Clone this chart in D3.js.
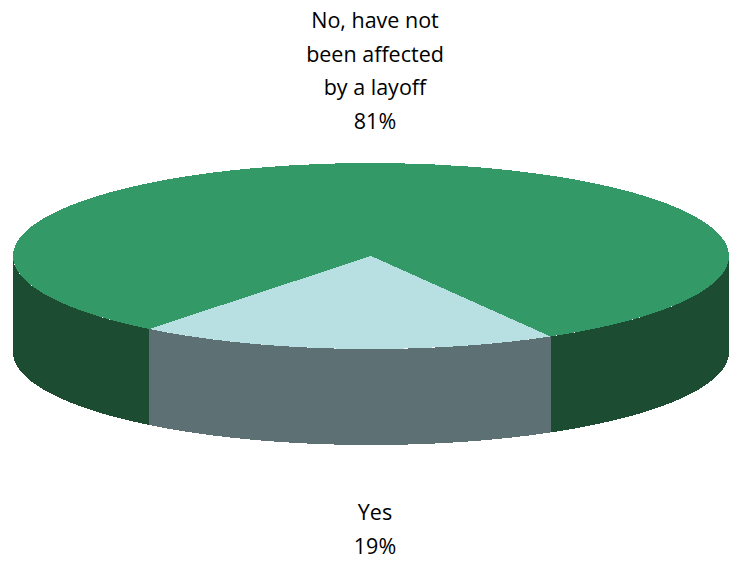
<!DOCTYPE html>
<html>
<head>
<meta charset="utf-8">
<script src="https://cdn.jsdelivr.net/npm/d3@7"></script>
<style>
  html, body { margin: 0; padding: 0; background: #fff; }
  svg { display: block; }
  text { font-family: "Open Sans", Lato, sans-serif; fill: #000; }
</style>
</head>
<body>
<svg id="chart" width="740" height="562"></svg>
<script>
// Survey answers: has the respondent been affected by a layoff?
const categories = ["Yes", "No, have not been affected by a layoff"];
const values = [19, 81];
const labelLines = [["Yes", "19%"], ["No, have not", "been affected", "by a layoff", "81%"]];
const topColors = ["#b8e0e3", "#339966"];
const sideColors = ["#5d7073", "#1c4d33"];

const W = 740, H = 562;
const cx = 371, cy = 256;     // centre of the top face
const rx = 358, ry = 93;      // ellipse radii of the disc
const depth = 96;             // thickness of the disc

const svg = d3.select("#chart");

// Slice angles (0 at 12 o'clock, clockwise)
const startDeg = 149.9;
const pie = d3.pie().sort(null)
  .startAngle(startDeg * Math.PI / 180)
  .endAngle((startDeg + 360) * Math.PI / 180);
const arcs = pie(values);

// Map a pie angle onto the flattened ellipse
const px = a => cx + rx * Math.sin(a);
const py = a => cy - ry * Math.cos(a);

// Front-facing portion of the rim lies between 90° and 270° (mod 360°)
function frontRanges(a0, a1) {
  const out = [];
  for (let k = -1; k <= 2; k++) {
    const lo = Math.PI / 2 + k * 2 * Math.PI, hi = 3 * Math.PI / 2 + k * 2 * Math.PI;
    const s = Math.max(a0, lo), e = Math.min(a1, hi);
    if (e > s) out.push([s, e]);
  }
  return out;
}

const line = d3.line();
const sides = [];
arcs.forEach((d, i) => {
  frontRanges(d.startAngle, d.endAngle).forEach(([s, e]) => {
    const n = Math.max(2, Math.ceil((e - s) / 0.01));
    const ts = d3.range(n + 1).map(j => s + (e - s) * j / n);
    const pts = ts.map(a => [px(a), py(a)])
      .concat(ts.slice().reverse().map(a => [px(a), py(a) + depth]));
    sides.push({ i, pts, mid: (s + e) / 2 });
  });
});

const g = svg.append("g").attr("shape-rendering", "crispEdges");

// Rim pieces
g.selectAll("path.side")
  .data(sides)
  .join("path")
  .attr("class", "side")
  .attr("d", d => line(d.pts) + "Z")
  .attr("fill", d => sideColors[d.i]);

// Top faces: circular arcs squashed into the ellipse
const arcGen = d3.arc().innerRadius(0).outerRadius(rx);
g.append("g")
  .attr("transform", `translate(${cx},${cy}) scale(1,${ry / rx})`)
  .selectAll("path.top")
  .data(arcs)
  .join("path")
  .attr("class", "top")
  .attr("d", arcGen)
  .attr("fill", (d, i) => topColors[i]);

// Labels outside the disc, above or below depending on the slice's position
const fontSize = 21.5, lineH = 33.5;
arcs.forEach((d, i) => {
  const mid = (d.startAngle + d.endAngle) / 2;
  const below = Math.cos(mid) < 0;
  const lines = labelLines[i];
  const x = cx + 4;
  const t = svg.append("text")
    .attr("text-anchor", "middle")
    .attr("font-size", fontSize);
  const firstBaseline = below
    ? cy + ry + depth + 75
    : cy - ry - 135;
  lines.forEach((s, k) => {
    t.append("tspan")
      .attr("x", x)
      .attr("y", firstBaseline + k * lineH)
      .text(s);
  });
});
</script>
</body>
</html>
